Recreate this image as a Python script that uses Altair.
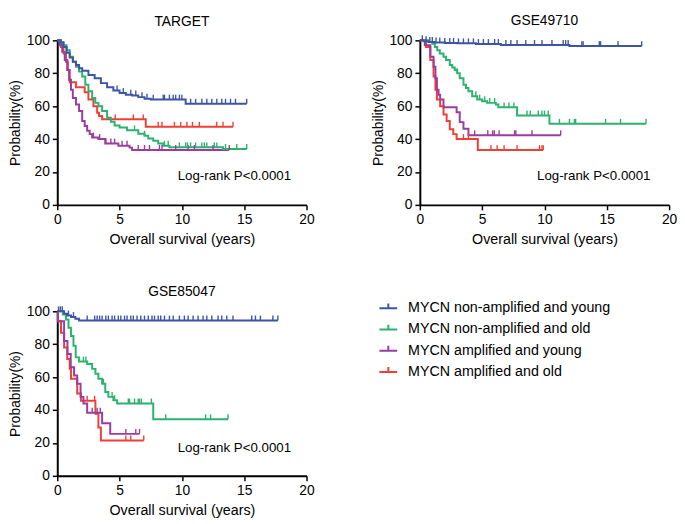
import altair as alt
import pandas as pd

FONT = "Liberation Sans"
GROUPS = ["MYCN non-amplified and young", "MYCN non-amplified and old",
          "MYCN amplified and young", "MYCN amplified and old"]
COLORS = ["#3C55A5", "#2BB36E", "#9C3C9E", "#EE4036"]
X_TICKS = [0, 5, 10, 15, 20]
Y_TICKS = [0, 20, 40, 60, 80, 100]
LOGRANK = "Log-rank P<0.0001"

# ---------------- TARGET ----------------
TG_NY_T = [0, 0.25, 0.5, 0.75, 1, 1.25, 1.5, 1.75, 2, 2.5, 3, 3.5, 4, 4.5, 5, 5.5, 6, 6.5, 7, 7.5, 10.3, 15.2]
TG_NY_S = [100, 98.5, 96, 92.5, 89.5, 87, 85, 83, 81.5, 79, 77, 74, 71.5, 69.5, 68, 67, 66.5, 65.5, 64.5, 64, 61.5, 61.5]
TG_NY_C = [4.8, 5.3, 5.9, 6.3, 6.8, 7.2, 7.7, 8.5, 8.6, 9.0, 9.3, 9.5, 9.8, 10.0, 10.7, 11.1, 11.6,
           12.0, 12.4, 12.8, 13.2, 13.5, 13.9, 14.3, 15.2]
TG_NO_T = [0, 0.25, 0.5, 0.75, 1, 1.25, 1.5, 1.75, 2, 2.25, 2.5, 2.8, 3.05, 3.3, 3.6, 4.0, 4.3, 4.6, 5.0,
           5.6, 6.5, 7.0, 7.3, 7.7, 8.1, 8.5, 9.0, 13.3, 15.2]
TG_NO_S = [100, 99, 97, 94, 90, 87, 84, 81, 78, 73, 69, 65, 62, 60, 57, 53, 50.5, 48.3, 47,
           45.3, 43.3, 42, 40.3, 39, 37.3, 36, 35, 34, 34]
TG_NO_C = [6.2, 7.0, 8.6, 8.9, 9.8, 10.3, 10.45, 10.7, 11.1, 11.6, 11.8, 12.0, 12.6, 12.8, 13.5, 14.4, 15.2]
TG_AY_T = [0, 0.2, 0.4, 0.6, 0.8, 0.95, 1.1, 1.25, 1.5, 1.75, 2.0, 2.2, 2.4, 2.6, 2.8, 3.3, 3.85, 4.9,
           5.8, 6.0, 13.8]
TG_AY_S = [100, 97, 93, 88, 82, 76, 70, 65, 61, 57, 51, 48, 45, 43, 41, 40, 37.3, 36, 34.8, 33.4, 33.4]
TG_AY_C = [2.9, 3.4, 3.9, 4.3, 4.6, 5.2, 5.6, 6.5, 7.0, 7.4, 8.2, 8.4, 9.5, 10.5, 11.0, 12.5, 13.8]
TG_AO_T = [0, 0.3, 0.5, 0.7, 0.85, 1.0, 1.5, 2.2, 2.5, 2.9, 3.2, 3.35, 3.6, 7.1, 14.1]
TG_AO_S = [100, 96, 92, 87, 82, 74.5, 71.5, 68.5, 64, 60, 56, 54, 52, 47.5, 47.5]
TG_AO_C = [4.65, 6.1, 6.9, 8.1, 8.4, 9.4, 9.9, 10.4, 10.85, 11.4, 12.8, 13.3, 14.1]

# ---------------- GSE49710 ----------------
G4_NY_T = [0, 0.3, 0.7, 1.2, 2.0, 3.0, 4.5, 6.5, 12.0, 17.8]
G4_NY_S = [100, 99.5, 99, 98.7, 98.4, 98.2, 97.8, 97.2, 96.5, 96.5]
G4_NY_C = [0.2, 0.5, 0.8, 1.0, 1.3, 1.6, 2.0, 2.4, 2.7, 3.1, 3.5, 3.9, 4.3, 4.7, 5.1, 5.5, 6.0, 6.3, 6.9,
           7.3, 7.8, 8.5, 9.2, 9.8, 10.6, 11.5, 11.7, 11.9, 13.0, 13.1, 14.4, 14.5, 15.9, 17.8]
G4_NO_T = [0, 0.7, 1.0, 1.2, 1.4, 1.6, 1.9, 2.1, 2.4, 2.6, 2.8, 3.0, 3.2, 3.5, 3.7, 3.9, 4.2, 4.6, 5.0,
           5.4, 6.1, 6.3, 7.8, 10.4, 18.15]
G4_NO_S = [100, 99, 98, 96, 94, 92, 90, 88, 85, 83.5, 82, 80, 77, 73, 71, 69, 66, 64, 63,
           62, 61, 59.3, 54.3, 49.3, 49.3]
G4_NO_C = [3.0, 4.5, 4.8, 5.2, 5.6, 6.0, 6.76, 7.15, 7.55, 8.6, 8.86, 9.5, 9.8, 10.0, 10.3, 11.2, 12.0,
           12.4, 12.5, 14.9, 16.1, 18.15]
G4_AY_T = [0, 0.4, 0.84, 1.1, 1.25, 1.37, 1.5, 1.63, 1.9, 2.95, 3.2, 3.5, 3.9, 11.3]
G4_AY_S = [100, 97, 90, 84, 77, 70, 67, 64, 59.3, 56.3, 50.3, 46.3, 42.3, 42.3]
G4_AY_C = [4.4, 5.45, 5.84, 5.97, 6.36, 7.6, 7.7, 9.0, 11.3]
G4_AO_T = [0, 0.5, 0.84, 1.1, 1.25, 1.37, 1.63, 1.9, 2.15, 2.4, 2.68, 2.95, 4.65, 9.9]
G4_AO_S = [100, 96, 88, 78, 70, 64, 60, 55, 51, 46, 43, 40, 33.3, 33.3]
G4_AO_C = [3.5, 3.9, 5.7, 6.2, 6.76, 7.8, 9.6, 9.8, 9.9]

# ---------------- GSE85047 ----------------
G8_NY_T = [0, 0.55, 0.8, 1.1, 1.45, 1.75, 17.7]
G8_NY_S = [100, 98.5, 97.5, 96.5, 95.5, 94.4, 94.4]
G8_NY_C = [0.1, 0.25, 0.4, 0.9, 1.3, 2.4, 3.0, 3.2, 3.4, 3.6, 3.9, 4.1, 4.4, 4.6, 4.9, 5.1, 5.4, 5.6, 5.9,
           6.1, 6.4, 6.7, 7.0, 7.3, 7.6, 7.8, 8.1, 8.3, 8.6, 9.0, 9.3, 9.8, 10.2, 10.5, 10.9, 11.3, 11.7,
           12.0, 12.4, 12.9, 13.2, 13.6, 14.1, 15.6, 15.9, 16.3, 17.3, 17.7]
G8_NO_T = [0, 0.45, 0.7, 0.9, 1.1, 1.3, 1.48, 1.74, 2.4, 2.8, 3.06, 3.3, 3.6, 3.85, 4.1, 4.5, 4.8, 7.7, 13.7]
G8_NO_S = [100, 98, 95, 90, 85, 79, 72, 69.5, 68, 65, 62, 59, 56, 51, 48, 46, 44, 34.4, 34.4]
G8_NO_C = [2.1, 2.3, 3.7, 4.4, 4.6, 5.7, 5.8, 6.2, 6.5, 6.6, 6.75, 7.55, 8.7, 11.9, 12.3, 13.7]
G8_AY_T = [0, 0.05, 0.55, 0.82, 1.08, 1.35, 1.6, 1.87, 2.1, 2.4, 3.6, 4.25, 6.6]
G8_AY_S = [100, 94, 82, 74, 66, 61, 56, 48, 44, 38.4, 32, 25.5, 25.5]
G8_AY_C = [2.8, 3.2, 3.45, 5.5, 6.3, 6.6]
G8_AO_T = [0, 0.05, 0.3, 0.55, 0.8, 1.0, 1.1, 1.6, 1.9, 3.06, 3.3, 3.5, 6.94]
G8_AO_S = [100, 94, 87, 78, 71, 65, 59, 50, 45.7, 37.8, 29.4, 21.5, 21.5]
G8_AO_C = [2.4, 3.0, 5.5, 5.9, 6.94]

TEXT_T = [9.66, 9.4, 9.66]
TEXT_S = [17.4, 17.4, 16.9]


def step_at(ts, ss, c):
    v = ss[0]
    for t, s in zip(ts, ss):
        if t <= c:
            v = s
    return v


x_enc = alt.X("t:Q", scale=alt.Scale(domain=[0, 20], nice=False),
              axis=alt.Axis(values=X_TICKS, title="Overall survival (years)", titleFontSize=14.5,
                            labelFlush=False))
y_enc = alt.Y("s:Q", scale=alt.Scale(domain=[0, 100], nice=False),
              axis=alt.Axis(values=Y_TICKS, title="Probability(%)"))
color_enc = alt.Color(
    "group:N",
    scale=alt.Scale(domain=GROUPS, range=COLORS),
    legend=alt.Legend(
        title=None, orient="none", legendX=326, legendY=262,
        symbolType="M-1,0L1,0M0,0L0,-0.55", symbolSize=324, symbolStrokeWidth=2,
        labelFontSize=14.5, labelFont=FONT, labelColor="black", labelOffset=10,
        labelLimit=400, rowPadding=4.5, padding=0,
    ),
)


def panel(title, curves, tx, ty):
    rows, cens = [], []
    order = [3, 2, 1, 0]
    for i in order:
        ts, ss, cs = curves[i]
        g = GROUPS[i]
        for t, s in zip(ts, ss):
            rows.append({"group": g, "t": t, "s": s})
        for c in cs:
            cens.append({"group": g, "t": c, "s": step_at(ts, ss, c)})
    lines = alt.Chart(pd.DataFrame(rows)).mark_line(
        interpolate="step-after", strokeWidth=2
    ).encode(x=x_enc, y=y_enc, color=color_enc)
    ticks = alt.Chart(pd.DataFrame(cens)).mark_point(
        shape="M0,0L0,-1", size=100, filled=False, strokeWidth=1.4, opacity=1
    ).encode(x=x_enc, y=y_enc, color=color_enc)
    txt = alt.Chart(pd.DataFrame({"t": [tx], "s": [ty], "label": [LOGRANK]})).mark_text(
        align="left", baseline="middle", fontSize=13.5, font=FONT, color="black"
    ).encode(x=x_enc, y=y_enc, text="label:N")
    return alt.layer(lines, ticks, txt).properties(
        width=253, height=167,
        title=alt.TitleParams(text=title, fontSize=14, fontWeight="normal", font=FONT,
                              color="black", anchor="middle", offset=5),
    )


p1 = panel("TARGET", [(TG_NY_T, TG_NY_S, TG_NY_C), (TG_NO_T, TG_NO_S, TG_NO_C),
                      (TG_AY_T, TG_AY_S, TG_AY_C), (TG_AO_T, TG_AO_S, TG_AO_C)],
           TEXT_T[0], TEXT_S[0])
p2 = panel("GSE49710", [(G4_NY_T, G4_NY_S, G4_NY_C), (G4_NO_T, G4_NO_S, G4_NO_C),
                        (G4_AY_T, G4_AY_S, G4_AY_C), (G4_AO_T, G4_AO_S, G4_AO_C)],
           TEXT_T[1], TEXT_S[1])
p3 = panel("GSE85047", [(G8_NY_T, G8_NY_S, G8_NY_C), (G8_NO_T, G8_NO_S, G8_NO_C),
                        (G8_AY_T, G8_AY_S, G8_AY_C), (G8_AO_T, G8_AO_S, G8_AO_C)],
           TEXT_T[2], TEXT_S[2])

chart = alt.vconcat(
    alt.hconcat(p1, p2, spacing=57), p3, spacing=39
).properties(padding={"left": 0, "top": 2, "right": 0, "bottom": 0}).configure_view(
    stroke=None
).configure_axis(
    domainColor="black", domainWidth=2, tickColor="black", tickWidth=1.5, tickSize=5,
    labelFontSize=14, labelColor="black", labelFont=FONT,
    titleFontSize=14, titleFontWeight="normal", titleColor="black", titleFont=FONT,
    grid=False,
).configure_axisX(labelPadding=3, titlePadding=6).configure_axisY(labelPadding=3, titlePadding=4)

chart.save("out.html", embed_options={"renderer": "svg", "actions": False})
